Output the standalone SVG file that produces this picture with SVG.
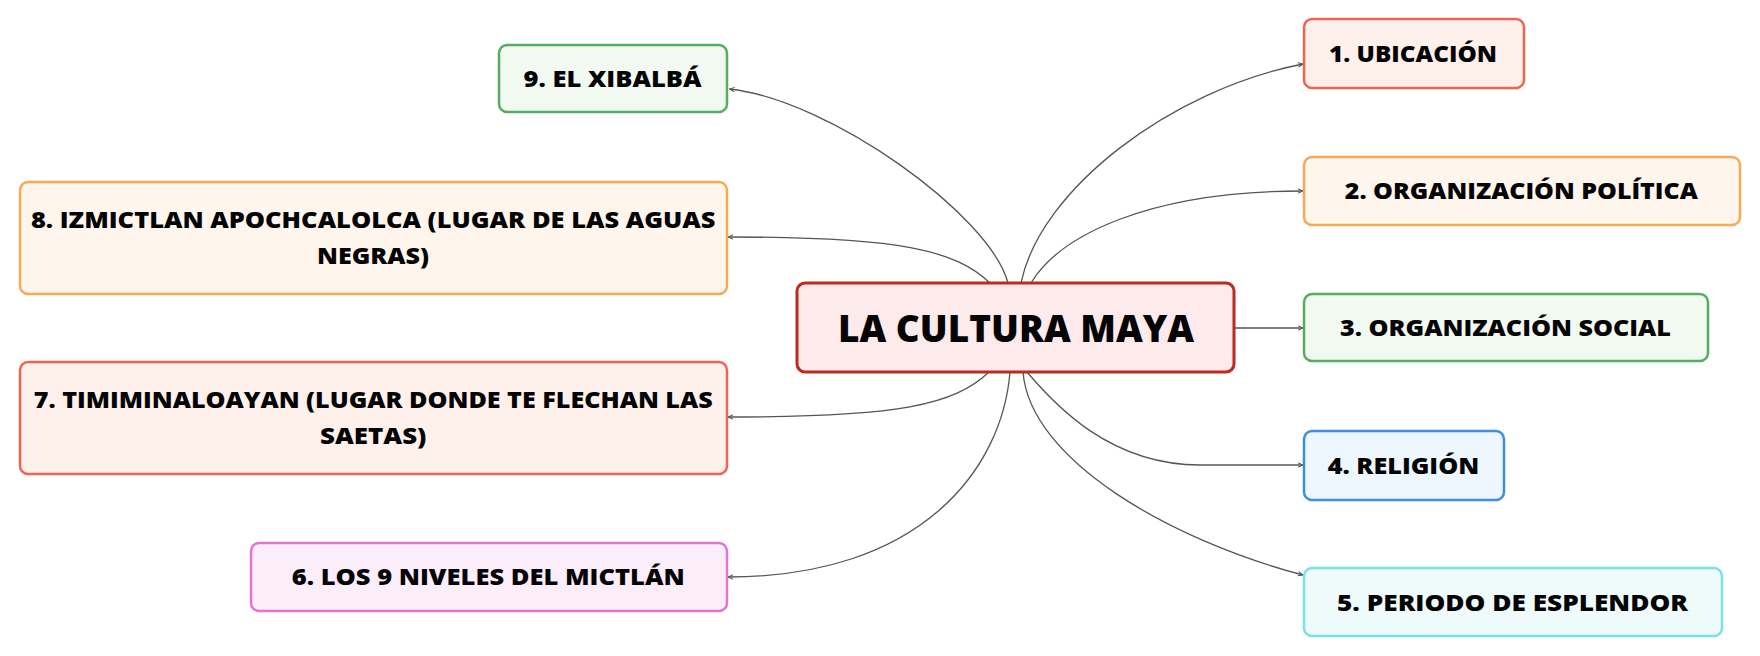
<svg xmlns="http://www.w3.org/2000/svg" width="1760" height="656" viewBox="0 0 1760 656">
<style>
.bg{fill:#ffffff}
.box{stroke-width:2.5}
.red{fill:#FEF1EC;stroke:#F26452}
.orange{fill:#FEF6EC;stroke:#F7AA55}
.green{fill:#F1F9F1;stroke:#55AD5F}
.blue{fill:#EEF6FE;stroke:#3C8FDD}
.cyan{fill:#EFFBFB;stroke:#78E3E3}
.pink{fill:#FCEDFB;stroke:#E274D8}
.root{fill:#FDEBEB;stroke:#BC2A20;stroke-width:3}
.lbl{font-family:"Open Sans","Liberation Sans",sans-serif;font-weight:800;font-size:23px;fill:#050505;text-anchor:middle}
.rootlbl{font-family:"Open Sans","Liberation Sans",sans-serif;font-weight:800;font-size:37px;fill:#050505;text-anchor:middle}
.conn path{fill:none;stroke:#555555;stroke-width:1.3}
</style>
<defs>
<marker id="arr" viewBox="0 0 6 6" refX="5.5" refY="3" markerWidth="6" markerHeight="6" markerUnits="userSpaceOnUse" orient="auto">
<path d="M0.5,0.8 L5.5,3 L0.5,5.2" fill="none" stroke="#555555" stroke-width="1"/>
</marker>
</defs>
<rect class="bg" x="0" y="0" width="1760" height="656"/>
<g id="connectors" class="conn">
<path d="M1008,283 C990,215 830,100 729.5,89" marker-end="url(#arr)"/>
<path d="M990,283 C955,250 900,237 728,237" marker-end="url(#arr)"/>
<path d="M989,372 C954,405 900,417 728,417" marker-end="url(#arr)"/>
<path d="M1010,372 C1002,470 920,577 728,577" marker-end="url(#arr)"/>
<path d="M1021,283 C1040,190 1170,90 1303,64" marker-end="url(#arr)"/>
<path d="M1031,283 C1060,235 1150,191 1303,191" marker-end="url(#arr)"/>
<path d="M1235,328 L1303,328" marker-end="url(#arr)"/>
<path d="M1027,372 C1055,405 1110,465 1200,465 L1303,465" marker-end="url(#arr)"/>
<path d="M1023,372 C1030,460 1170,540 1303,575" marker-end="url(#arr)"/>
</g>
<g id="root">
<rect class="root" x="797" y="283" width="437" height="89" rx="8"/>
<text class="rootlbl" x="1016" y="341.5" textLength="356" lengthAdjust="spacingAndGlyphs">LA CULTURA MAYA</text>
</g>
<g id="n1">
<rect class="box red" x="1304" y="19" width="220" height="69" rx="8"/>
<text class="lbl" x="1413" y="61.7" textLength="168" lengthAdjust="spacingAndGlyphs">1. UBICACIÓN</text>
</g>
<g id="n2">
<rect class="box orange" x="1304" y="157" width="436" height="68" rx="8"/>
<text class="lbl" x="1521.3" y="199.3" textLength="353" lengthAdjust="spacingAndGlyphs">2. ORGANIZACIÓN POLÍTICA</text>
</g>
<g id="n3">
<rect class="box green" x="1304" y="294" width="404" height="67" rx="8"/>
<text class="lbl" x="1505.5" y="335.5" textLength="331" lengthAdjust="spacingAndGlyphs">3. ORGANIZACIÓN SOCIAL</text>
</g>
<g id="n4">
<rect class="box blue" x="1304" y="431" width="200" height="69" rx="8"/>
<text class="lbl" x="1403.5" y="474" textLength="151.5" lengthAdjust="spacingAndGlyphs">4. RELIGIÓN</text>
</g>
<g id="n5">
<rect class="box cyan" x="1304" y="568" width="418" height="68" rx="8"/>
<text class="lbl" x="1512.5" y="610.7" textLength="351" lengthAdjust="spacingAndGlyphs">5. PERIODO DE ESPLENDOR</text>
</g>
<g id="n6">
<rect class="box pink" x="251" y="543" width="476" height="68" rx="8"/>
<text class="lbl" x="488.2" y="584.7" textLength="393" lengthAdjust="spacingAndGlyphs">6. LOS 9 NIVELES DEL MICTLÁN</text>
</g>
<g id="n7">
<rect class="box red" x="20" y="362" width="707" height="112" rx="8"/>
<text class="lbl" x="373.2" y="408" textLength="679" lengthAdjust="spacingAndGlyphs">7. TIMIMINALOAYAN (LUGAR DONDE TE FLECHAN LAS</text>
<text class="lbl" x="373.2" y="444" textLength="106.5" lengthAdjust="spacingAndGlyphs">SAETAS)</text>
</g>
<g id="n8">
<rect class="box orange" x="20" y="182" width="707" height="112" rx="8"/>
<text class="lbl" x="373.2" y="228.3" textLength="684.6" lengthAdjust="spacingAndGlyphs">8. IZMICTLAN APOCHCALOLCA (LUGAR DE LAS AGUAS</text>
<text class="lbl" x="373" y="264" textLength="112" lengthAdjust="spacingAndGlyphs">NEGRAS)</text>
</g>
<g id="n9">
<rect class="box green" x="499" y="45" width="228" height="67" rx="8"/>
<text class="lbl" x="612.5" y="87.3" textLength="178" lengthAdjust="spacingAndGlyphs">9. EL XIBALBÁ</text>
</g>
</svg>
